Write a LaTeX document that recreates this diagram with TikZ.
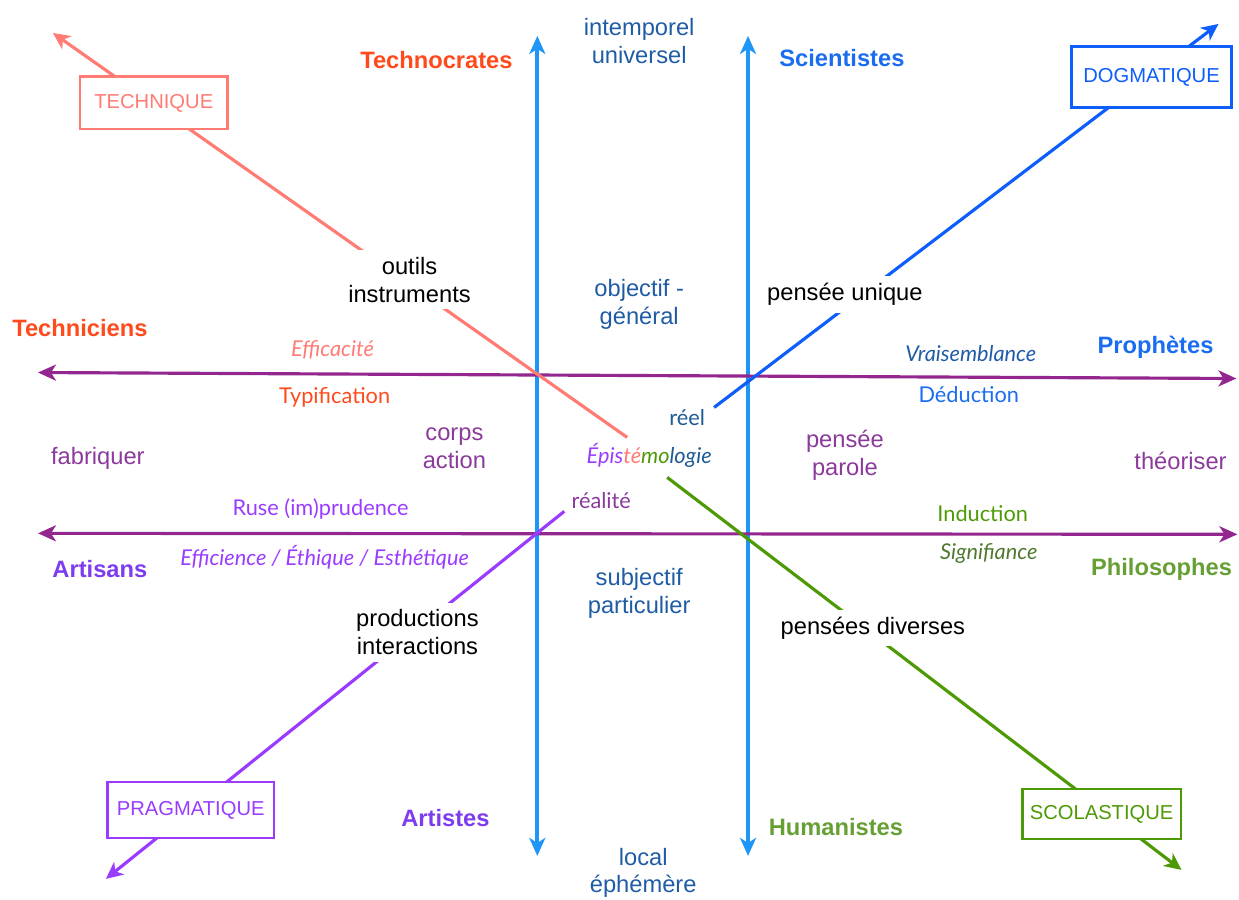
\documentclass[tikz,border=0pt]{standalone}
\usepackage{fontspec}
\setmainfont{Liberation Sans}
\newfontfamily\gillfont{Lato}
\usetikzlibrary{arrows.meta}
\definecolor{caxe}{HTML}{1E96F8}
\definecolor{cplum}{HTML}{93278F}
\definecolor{csalmon}{HTML}{FF7B74}
\definecolor{cblue}{HTML}{0D5EFB}
\definecolor{cgreen}{HTML}{4E9A06}
\definecolor{cviolet}{HTML}{9A3CFF}
\definecolor{tred}{HTML}{FF4A1C}
\definecolor{tblue}{HTML}{1A6CF0}
\definecolor{tviolet}{HTML}{7E3CF0}
\definecolor{tgreen}{HTML}{66A034}
\definecolor{tnavy}{HTML}{1F5CA5}
\definecolor{tplum}{HTML}{8B3A9B}
\definecolor{tdark}{HTML}{1E5A96}
\definecolor{tolive}{HTML}{4F7A2F}

\begin{document}
\begin{tikzpicture}[x=0.02cm,y=-0.02cm,
  txt/.style={align=center,font=\fontsize{13.5}{15.9}\selectfont,inner sep=1pt},
  role/.style={txt,font=\bfseries\fontsize{13.5}{15.9}\selectfont},
  gill/.style={align=center,font=\gillfont\fontsize{12.4}{15.9}\selectfont,inner sep=1pt},
  gilli/.style={gill,font=\gillfont\itshape\fontsize{12.4}{15.9}\selectfont},
  hole/.style={txt,fill=white,inner sep=4pt},
  pole/.style={draw=#1,text=#1,line width=1.5pt,fill=white,minimum height=1.05cm,
    font=\fontsize{11.5}{14}\selectfont},
  tip/.style={-{Stealth[length=3.4mm,width=3.2mm,inset=1mm]}},
  axe/.style={caxe,line width=2.2pt,{Stealth[length=3.6mm,width=3.2mm,inset=1mm]}-{Stealth[length=3.6mm,width=3.2mm,inset=1mm]}},
  cut/.style={cplum,line width=1.8pt,{Stealth[length=3.6mm,width=3.2mm,inset=1mm]}-{Stealth[length=3.6mm,width=3.2mm,inset=1mm]}},
  diag/.style={tip,line width=1.8pt}]
% ends of the axes and diagonals
\coordinate (v1a) at (538,36);  \coordinate (v1b) at (538,857);
\coordinate (v2a) at (749,36);  \coordinate (v2b) at (749,857);
\coordinate (h1a) at (38,373);  \coordinate (h1b) at (1238,379);
\coordinate (h2a) at (38,534);  \coordinate (h2b) at (1239,535);
\coordinate (sal0) at (628,438); \coordinate (sal1) at (53,33);
\coordinate (blu0) at (715,408); \coordinate (blu1) at (1220,24);
\coordinate (grn0) at (668,478); \coordinate (grn1) at (1183,871);
\coordinate (vio0) at (565,512); \coordinate (vio1) at (106,880);

\draw[axe] (v1a) -- (v1b);
\draw[axe] (v2a) -- (v2b);
\draw[cut] (h1a) -- (h1b);
\draw[cut] (h2a) -- (h2b);
\draw[diag,csalmon] (sal0) -- (sal1);
\draw[diag,cblue] (blu0) -- (blu1);
\draw[diag,cgreen] (grn0) -- (grn1);
\draw[diag,cviolet] (vio0) -- (vio1);

% poles
\node[pole=csalmon,minimum width=2.96cm] (technique) at (154,103) {TECHNIQUE};
\node[pole=cblue,minimum width=3.2cm,minimum height=1.22cm] (dogma) at (1153,77) {DOGMATIQUE};
\node[pole=cviolet,minimum width=3.34cm,minimum height=1.12cm] (pragma) at (191,811) {PRAGMATIQUE};
\node[pole=cgreen,minimum width=3.18cm,minimum height=1cm] (scola) at (1103,815) {SCOLASTIQUE};

% roles
\node[role,tred] (technocrates) at (437,60) {Technocrates};
\node[role,tblue] (scientistes) at (843,58) {Scientistes};
\node[role,tred] (techniciens) at (80,328) {Techniciens};
\node[role,tblue] (prophetes) at (1157,348) {Prophètes};
\node[role,tviolet] (artisans) at (100,570) {Artisans};
\node[role,tgreen] (philosophes) at (1163,570) {Philosophes};
\node[role,tviolet] (artistes) at (446,819) {Artistes};
\node[role,tgreen] (humanistes) at (837,828) {Humanistes};

% plain labels
\node[txt,tnavy] (intemporel) at (640,41) {intemporel\\universel};
\node[txt,tnavy] (objectif) at (640,305) {objectif -\\général};
\node[txt,tnavy] (subjectif) at (640,594) {subjectif\\particulier};
\node[txt,tnavy] (local) at (644,874) {local\\éphémère};
\node[hole] (outils) at (410,280) {outils\\instruments};
\node[hole] (unique) at (846,295) {pensée unique};
\node[hole] (diverses) at (874,629) {pensées diverses};
\node[hole] (productions) at (418,633) {productions\\interactions};
\node[txt,tplum] (fabriquer) at (98,459) {fabriquer};
\node[txt,tplum] (corps) at (455,449) {corps\\action};
\node[txt,tplum] (parole) at (846,456) {pensée\\parole};
\node[txt,tplum] (theoriser) at (1182,461) {théoriser};

% epistemology labels
\node[gilli,csalmon] (efficacite) at (333,350) {Efficacité};
\node[gill,tred] (typification) at (335,398) {Typification};
\node[gilli,tnavy] (vraisemblance) at (972,354) {Vraisemblance};
\node[gill,tblue] (deduction) at (970,395) {Déduction};
\node[gill,cviolet] (ruse) at (321,510) {Ruse (im)prudence};
\node[gilli,cviolet] (efficience) at (325,558) {Efficience / Éthique / Esthétique};
\node[gill,cgreen] (induction) at (984,514) {Induction};
\node[gilli,tolive] (signifiance) at (990,554) {Signifiance};
\node[gill,tdark] (reel) at (688,418) {réel};
\node[gill,tplum] (realite) at (602,501) {réalité};
\node[gilli] (episteme) at (650,456) {\color{cviolet}Épis\color{csalmon}té\color{cgreen}mo\color{tdark}logie};

\useasboundingbox (0,0) rectangle (1239,901);
\end{tikzpicture}
\end{document}
